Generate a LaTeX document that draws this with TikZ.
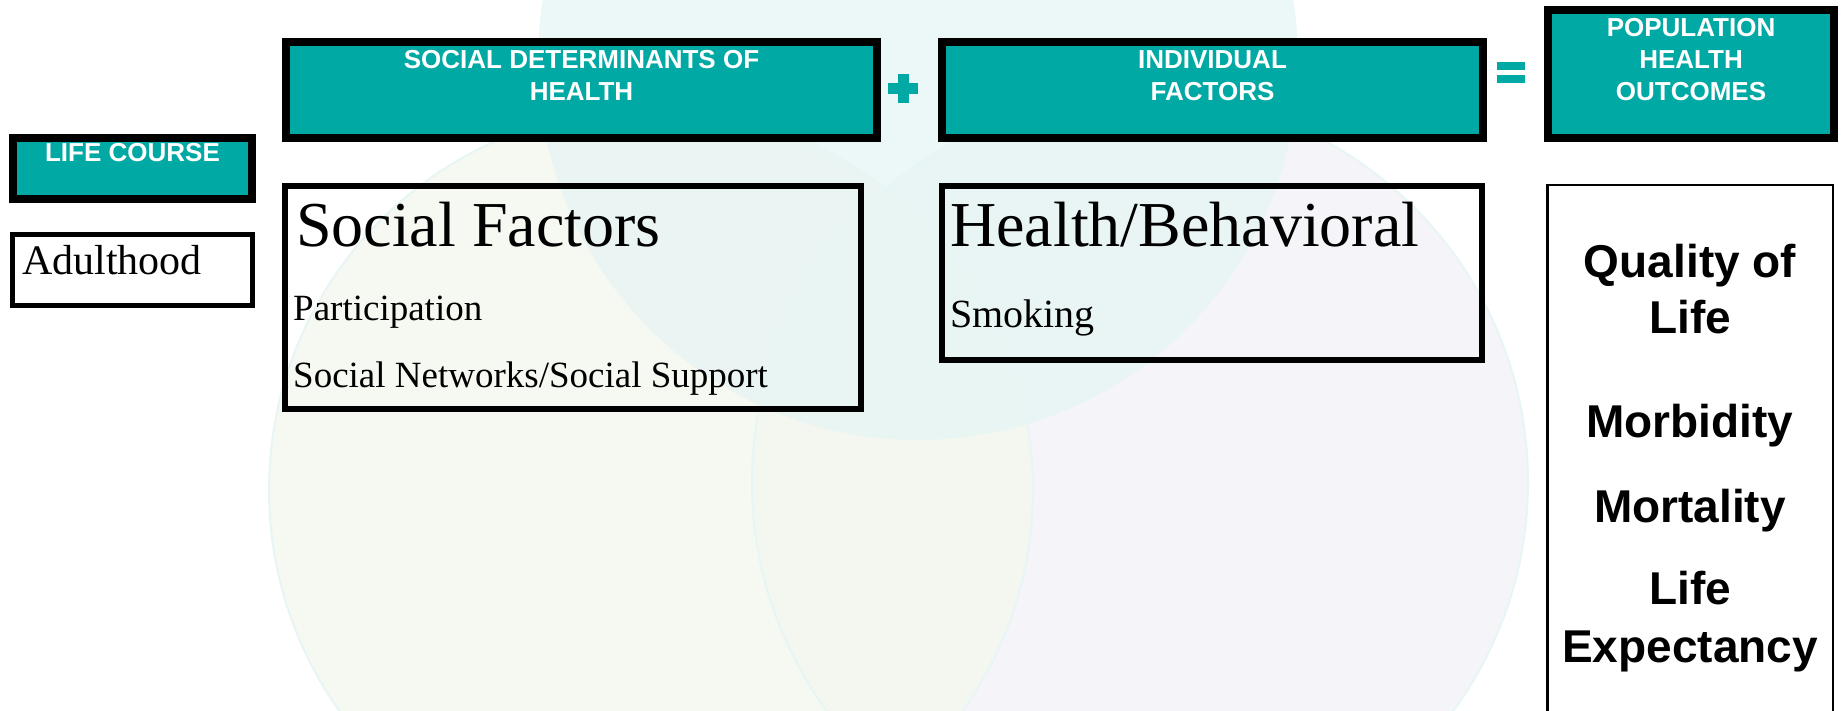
\documentclass[tikz,border=0pt]{standalone}
\usepackage{fontspec}
\setmainfont{Liberation Serif}
\newfontfamily\headfont{Liberation Sans}
\definecolor{hdteal}{RGB}{0,169,164}
\definecolor{venntop}{RGB}{231,245,245}
\definecolor{vennleft}{RGB}{245,248,238}
\definecolor{vennright}{RGB}{244,244,249}
\definecolor{vennedge}{RGB}{232,245,245}
\begin{document}
\begin{tikzpicture}[x=1pt,y=-1pt]
		\clip (0,0) rectangle (1843,711);
		% background circles
		\fill[vennright] (1140,482) circle (388);
		\fill[vennleft, fill opacity=0.85] (651,490) circle (382);
		\fill[venntop, fill opacity=0.8] (918,60) circle (380);
		\begin{scope}[line width=2pt, draw=vennedge]
			\draw (1140,482) circle (388);
			\draw (651,490) circle (382);
		\end{scope}

		\begin{scope}[every node/.style={draw, line width=8pt, fill=hdteal, inner sep=0pt}]
			\node (lifecourse) [minimum width=239, minimum height=61] at (132.5,168.5) {};
			\node (sdoh) [minimum width=591, minimum height=96] at (581.5,90) {};
			\node (indiv) [minimum width=541, minimum height=96] at (1212.5,90) {};
			\node (popout) [minimum width=286, minimum height=128] at (1691,74) {};
		\end{scope}
		\begin{scope}[every node/.style={text=white, inner sep=0pt, anchor=base, font=\headfont\bfseries\fontsize{26}{32}\selectfont}]
			\node (lifecoursetxt) at (132.5,162) {LIFE COURSE};
			\node (sdohtxtA) at (581.5,69) {SOCIAL DETERMINANTS OF};
			\node (sdohtxtB) at (581.5,101) {HEALTH};
			\node (indivtxtA) at (1212.5,69) {INDIVIDUAL};
			\node (indivtxtB) at (1212.5,101) {FACTORS};
			\node (popouttxtA) at (1691,37) {POPULATION};
			\node (popouttxtB) at (1691,69) {HEALTH};
			\node (popouttxtC) at (1691,101) {OUTCOMES};
		\end{scope}

		% plus and equals signs
		\fill[hdteal] (888,83) rectangle (918,94);
		\fill[hdteal] (897.5,74) rectangle (908.5,103);
		\fill[hdteal] (1497,62) rectangle (1525,70);
		\fill[hdteal] (1497,75) rectangle (1525,83);

		\begin{scope}[every node/.style={draw, line width=5.5pt, inner sep=0pt}]
			\node (adult) [fill=white, line width=5pt, minimum width=240, minimum height=71] at (132.5,270) {};
			\node (socfac) [minimum width=576, minimum height=223] at (573,297.5) {};
			\node (healthbeh) [minimum width=540, minimum height=174] at (1212,273) {};
			\node (outcomes) [fill=white, line width=2.5pt, minimum width=285.5, minimum height=554] at (1690,462) {};
		\end{scope}
		\begin{scope}[every node/.style={inner sep=0pt, anchor=base west}]
			\node (adulttxt) [font=\fontsize{42}{48}\selectfont] at (22,274) {Adulthood};
			\node (socfactxt) [font=\fontsize{64}{70}\selectfont] at (296,247) {Social Factors};
			\node (parttxt) [font=\fontsize{37}{42}\selectfont] at (293,320) {Participation};
			\node (networktxt) [font=\fontsize{37}{42}\selectfont] at (293,387) {Social Networks/Social Support};
			\node (healthtxt) [font=\fontsize{64}{70}\selectfont] at (950,247) {Health/Behavioral};
			\node (smoketxt) [font=\fontsize{40}{46}\selectfont] at (950,327) {Smoking};
		\end{scope}
		\begin{scope}[every node/.style={inner sep=0pt, anchor=base, font=\headfont\bfseries\fontsize{46}{56}\selectfont}]
			\node (qualtxt) at (1690,277) {Quality of};
			\node (qualtxtB) at (1690,333) {Life};
			\node (morbtxt) at (1690,437) {Morbidity};
			\node (morttxt) at (1690,522) {Mortality};
			\node (lifeexptxt) at (1690,604) {Life};
			\node (lifeexptxtB) at (1690,662) {Expectancy};
		\end{scope}
	\end{tikzpicture}
\end{document}
